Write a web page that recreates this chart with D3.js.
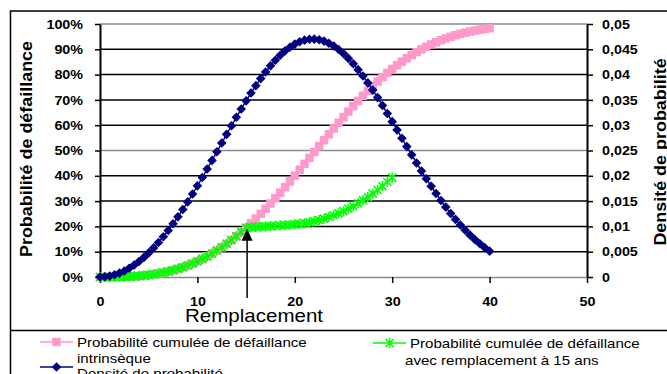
<!DOCTYPE html>
<html>
<head>
<meta charset="utf-8">
<script src="https://cdn.jsdelivr.net/npm/d3@7"></script>
<style>
  body { margin: 0; background: #fff; }
  svg text { font-family: "Liberation Sans", Arial, sans-serif; fill: #000; }
</style>
</head>
<body>
<div id="chart"></div>
<script>
// Années (pas de 0,5 an)
const years = [0, 0.5, 1, 1.5, 2, 2.5, 3, 3.5, 4, 4.5, 5, 5.5, 6, 6.5, 7, 7.5, 8, 8.5, 9, 9.5,
  10, 10.5, 11, 11.5, 12, 12.5, 13, 13.5, 14, 14.5, 15, 15.5, 16, 16.5, 17, 17.5, 18, 18.5, 19, 19.5,
  20, 20.5, 21, 21.5, 22, 22.5, 23, 23.5, 24, 24.5, 25, 25.5, 26, 26.5, 27, 27.5, 28, 28.5, 29, 29.5,
  30, 30.5, 31, 31.5, 32, 32.5, 33, 33.5, 34, 34.5, 35, 35.5, 36, 36.5, 37, 37.5, 38, 38.5, 39, 39.5, 40];

// Probabilité cumulée de défaillance intrinsèque (axe gauche)
const cumIntrinseque = [0, 0, 0.0001, 0.0002, 0.0005, 0.0010, 0.0017, 0.0027, 0.0041, 0.0058,
  0.0080, 0.0106, 0.0137, 0.0174, 0.0217, 0.0266, 0.0322, 0.0385, 0.0456, 0.0534,
  0.0620, 0.0714, 0.0817, 0.0928, 0.1047, 0.1175, 0.1312, 0.1457, 0.1611, 0.1773,
  0.1943, 0.2121, 0.2306, 0.2499, 0.2698, 0.2904, 0.3115, 0.3332, 0.3553, 0.3778,
  0.4007, 0.4238, 0.4472, 0.4706, 0.4941, 0.5176, 0.5410, 0.5642, 0.5872, 0.6098,
  0.6321, 0.6540, 0.6753, 0.6961, 0.7163, 0.7358, 0.7546, 0.7727, 0.7901, 0.8066,
  0.8224, 0.8373, 0.8514, 0.8647, 0.8772, 0.8889, 0.8998, 0.9099, 0.9192, 0.9278,
  0.9357, 0.9429, 0.9495, 0.9555, 0.9609, 0.9658, 0.9702, 0.9741, 0.9776, 0.9806, 0.9834];

// Probabilité cumulée avec remplacement à 15 ans (axe gauche, jusqu'à 30 ans)
const cumRemplacement = [0, 0, 0.0001, 0.0002, 0.0005, 0.0010, 0.0017, 0.0027, 0.0041, 0.0058,
  0.0080, 0.0106, 0.0137, 0.0174, 0.0217, 0.0266, 0.0322, 0.0385, 0.0456, 0.0534,
  0.0620, 0.0714, 0.0817, 0.0928, 0.1047, 0.1175, 0.1312, 0.1457, 0.1611, 0.1773,
  0.1943, 0.1960, 0.1975, 0.1988, 0.2000, 0.2012, 0.2025, 0.2037, 0.2050, 0.2065,
  0.2082, 0.2102, 0.2128, 0.2160, 0.2200, 0.2249, 0.2305, 0.2368, 0.2439, 0.2517,
  0.2603, 0.2697, 0.2800, 0.2911, 0.3030, 0.3158, 0.3295, 0.3440, 0.3594, 0.3756, 0.3926];

// Densité de probabilité (axe droit)
const densite = [0, 0.00005, 0.00019, 0.00043, 0.00077, 0.00120, 0.00173, 0.00235, 0.00306, 0.00387,
  0.00476, 0.00575, 0.00682, 0.00797, 0.00920, 0.01051, 0.01189, 0.01334, 0.01484, 0.01640,
  0.01801, 0.01966, 0.02134, 0.02304, 0.02475, 0.02648, 0.02819, 0.02989, 0.03157, 0.03321,
  0.03481, 0.03635, 0.03782, 0.03921, 0.04052, 0.04173, 0.04283, 0.04382, 0.04469, 0.04542,
  0.04603, 0.04649, 0.04681, 0.04698, 0.04701, 0.04689, 0.04662, 0.04621, 0.04565, 0.04497,
  0.04415, 0.04320, 0.04214, 0.04098, 0.03971, 0.03836, 0.03694, 0.03545, 0.03390, 0.03231,
  0.03070, 0.02906, 0.02742, 0.02577, 0.02414, 0.02254, 0.02096, 0.01943, 0.01794, 0.01650,
  0.01512, 0.01381, 0.01256, 0.01138, 0.01028, 0.00924, 0.00827, 0.00738, 0.00656, 0.00580, 0.00511];

// Graduations
const xTicks = [0, 10, 20, 30, 40, 50];
const pctTicks = [0, 0.1, 0.2, 0.3, 0.4, 0.5, 0.6, 0.7, 0.8, 0.9, 1];
const pctLabels = ['0%', '10%', '20%', '30%', '40%', '50%', '60%', '70%', '80%', '90%', '100%'];
const densTicks = [0, 0.005, 0.01, 0.015, 0.02, 0.025, 0.03, 0.035, 0.04, 0.045, 0.05];
const densLabels = ['0', '0,005', '0,01', '0,015', '0,02', '0,025', '0,03', '0,035', '0,04', '0,045', '0,05'];
const replacementYear = 15;

const width = 667;
const height = 374;
const plot = { left: 100, right: 587, top: 24, bottom: 277 };

const pink = '#ff99cc';
const navy = '#000080';
const green = '#00ff00';

// Étire le texte horizontalement (le rendu d'origine est un peu élargi)
function stretch(sel, k) {
  sel.each(function () {
    const w = this.getComputedTextLength();
    d3.select(this).attr('textLength', w * k).attr('lengthAdjust', 'spacingAndGlyphs');
  });
}

const svg = d3.select('#chart').append('svg')
  .attr('width', width)
  .attr('height', height);

svg.append('rect').attr('width', width).attr('height', height).attr('fill', '#fff');

// Cadre extérieur
svg.append('rect')
  .attr('x', 10.5).attr('y', 11)
  .attr('width', 700).attr('height', 400)
  .attr('fill', 'none').attr('stroke', '#000').attr('stroke-width', 1.5);
svg.append('line')
  .attr('x1', 10).attr('x2', width).attr('y1', 330.5).attr('y2', 330.5)
  .attr('stroke', '#000').attr('stroke-width', 1.5);

const x = d3.scaleLinear().domain([0, 50]).range([plot.left, plot.right]);
const yL = d3.scaleLinear().domain([0, 1]).range([plot.bottom, plot.top]);
const yR = d3.scaleLinear().domain([0, 0.05]).range([plot.bottom, plot.top]);

// Quadrillage
svg.append('g').selectAll('line')
  .data(pctTicks.filter(d => d > 0))
  .enter().append('line')
  .attr('x1', plot.left).attr('x2', plot.right)
  .attr('y1', d => yL(d)).attr('y2', d => yL(d))
  .attr('stroke', d => (d === 0.5 || d === 1) ? '#8a8a8a' : '#000')
  .attr('stroke-width', 1.5);

// Axes
const gx = svg.append('g')
  .attr('transform', `translate(0,${plot.bottom})`)
  .call(d3.axisBottom(x).tickValues(xTicks).tickSize(6).tickSizeOuter(0).tickPadding(14));
gx.select('.domain').attr('stroke', '#8a8a8a').attr('stroke-width', 1.5);
gx.selectAll('.tick line').attr('stroke', '#000').attr('stroke-width', 1.5);
gx.selectAll('text').attr('font-size', 13).attr('font-weight', 'bold').call(stretch, 1.1);

const gl = svg.append('g')
  .attr('transform', `translate(${plot.left},0)`)
  .call(d3.axisLeft(yL).tickValues(pctTicks).tickFormat((d, i) => pctLabels[i])
    .tickSize(5).tickSizeOuter(0).tickPadding(12));
gl.select('.domain').attr('stroke', '#000').attr('stroke-width', 2);
gl.selectAll('.tick line').attr('stroke', '#000').attr('stroke-width', 1.5);
gl.selectAll('text').attr('font-size', 13).attr('font-weight', 'bold').call(stretch, 1.1);

const gr = svg.append('g')
  .attr('transform', `translate(${plot.right},0)`)
  .call(d3.axisRight(yR).tickValues(densTicks).tickFormat((d, i) => densLabels[i])
    .tickSize(6).tickSizeOuter(0).tickPadding(9));
gr.select('.domain').attr('stroke', '#000').attr('stroke-width', 2);
gr.selectAll('.tick line').attr('stroke', '#000').attr('stroke-width', 1.5);
gr.selectAll('text').attr('font-size', 13).attr('font-weight', 'bold').call(stretch, 1.1);
svg.selectAll('.tick text').attr('font-family', null);

// Titres des axes
svg.append('text')
  .attr('transform', 'translate(32,149) rotate(-90)')
  .attr('text-anchor', 'middle')
  .attr('font-size', 16).attr('font-weight', 'bold')
  .text('Probabilité de défaillance')
  .call(stretch, 1.12);

svg.append('text')
  .attr('transform', 'translate(666,152) rotate(-90)')
  .attr('text-anchor', 'middle')
  .attr('font-size', 16).attr('font-weight', 'bold')
  .text('Densité de probabilité')
  .call(stretch, 1.12);

// Symboles
const squarePath = d3.symbol().type(d3.symbolSquare).size(72)();
const diamondPath = d3.symbol().type(d3.symbolSquare).size(46)();
const starPath = 'M-4,-4L4,4M-4,4L4,-4M0,-5L0,5';

function drawSeries(xs, ys, yScale, color, marker) {
  const pts = xs.map((d, i) => [d, ys[i]]);
  const g = svg.append('g');
  g.append('path')
    .datum(pts)
    .attr('fill', 'none')
    .attr('stroke', color)
    .attr('stroke-width', 1.5)
    .attr('d', d3.line().x(d => x(d[0])).y(d => yScale(d[1])));
  const m = g.selectAll('path.m')
    .data(pts)
    .enter().append('path')
    .attr('class', 'm');
  if (marker === 'square') {
    m.attr('d', squarePath).attr('fill', color)
      .attr('transform', d => `translate(${x(d[0])},${yScale(d[1])})`);
  } else if (marker === 'diamond') {
    m.attr('d', diamondPath).attr('fill', color)
      .attr('transform', d => `translate(${x(d[0])},${yScale(d[1])}) rotate(45)`);
  } else {
    m.attr('d', starPath).attr('fill', 'none').attr('stroke', color).attr('stroke-width', 1.6)
      .attr('transform', d => `translate(${x(d[0])},${yScale(d[1])})`);
  }
}

drawSeries(years, cumIntrinseque, yL, pink, 'square');
drawSeries(years.slice(0, cumRemplacement.length), cumRemplacement, yL, green, 'star');
drawSeries(years, densite, yR, navy, 'diamond');

// Flèche "Remplacement"
const ax = x(replacementYear) + 1;
const ay = yL(cumRemplacement[years.indexOf(replacementYear)]) + 1;
svg.append('line')
  .attr('x1', ax).attr('x2', ax)
  .attr('y1', 298).attr('y2', ay + 10)
  .attr('stroke', '#000').attr('stroke-width', 1.5);
svg.append('path')
  .attr('d', `M${ax},${ay}L${ax - 5.5},${ay + 12}L${ax + 5.5},${ay + 12}Z`)
  .attr('fill', '#000');
svg.append('text')
  .attr('x', 185).attr('y', 322)
  .attr('font-size', 19)
  .text('Remplacement')
  .call(stretch, 1.08);

// Légende
const legend = [
  { color: pink, marker: 'square', x: 40, y: 342, lines: ['Probabilité cumulée de défaillance', 'intrinsèque'], tx: 77, ty: [347, 363] },
  { color: navy, marker: 'diamond', x: 40, y: 367, lines: ['Densité de probabilité'], tx: 77, ty: [378] },
  { color: green, marker: 'star', x: 373, y: 343, lines: ['Probabilité cumulée de défaillance', 'avec remplacement à 15 ans'], tx: 410, ty: [348, 365], tx2: 405 }
];

legend.forEach(l => {
  const g = svg.append('g');
  g.append('line')
    .attr('x1', l.x).attr('x2', l.x + 33)
    .attr('y1', l.y).attr('y2', l.y)
    .attr('stroke', l.color).attr('stroke-width', 1.5);
  const cx = l.x + 16.5;
  if (l.marker === 'square') {
    g.append('path').attr('d', squarePath).attr('fill', l.color).attr('transform', `translate(${cx},${l.y})`);
  } else if (l.marker === 'diamond') {
    g.append('path').attr('d', diamondPath).attr('fill', l.color).attr('transform', `translate(${cx},${l.y}) rotate(45)`);
  } else {
    g.append('path').attr('d', starPath).attr('fill', 'none').attr('stroke', l.color).attr('stroke-width', 1.6)
      .attr('transform', `translate(${cx},${l.y})`);
  }
  l.lines.forEach((t, i) => {
    g.append('text')
      .attr('x', i === 1 && l.tx2 ? l.tx2 : l.tx)
      .attr('y', l.ty[i])
      .attr('font-size', 13)
      .text(t)
      .call(stretch, 1.16);
  });
});
</script>
</body>
</html>
